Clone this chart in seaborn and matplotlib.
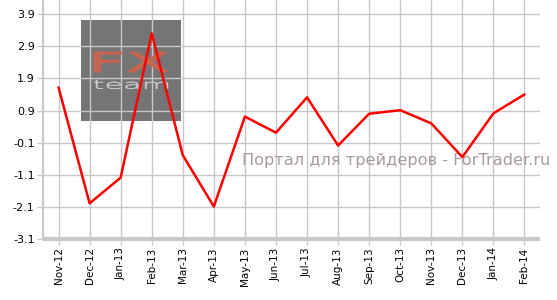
import matplotlib
matplotlib.use("Agg")
import matplotlib.pyplot as plt
import seaborn as sns
import pandas as pd
from matplotlib.patches import Rectangle, PathPatch
from matplotlib.textpath import TextPath
from matplotlib.font_manager import FontProperties
from matplotlib.transforms import Affine2D

months = ["Nov-12", "Dec-12", "Jan-13", "Feb-13", "Mar-13", "Apr-13", "May-13", "Jun-13",
          "Jul-13", "Aug-13", "Sep-13", "Oct-13", "Nov-13", "Dec-13", "Jan-14", "Feb-14"]
values = [1.62, -1.99, -1.19, 3.30, -0.49, -2.09, 0.71, 0.21,
          1.31, -0.19, 0.80, 0.91, 0.50, -0.55, 0.81, 1.40]
yticks = [-3.1, -2.1, -1.1, -0.1, 0.9, 1.9, 2.9, 3.9]
watermark = "Портал для трейдеров - ForTrader.ru"
logo_top = "FX"
logo_bottom = "team"

sns.set_theme(style="white")
plt.rcParams['font.family'] = ['DejaVu Sans']

df = pd.DataFrame({"month": months, "value": values})

W, H = 557, 300
fig = plt.figure(figsize=(W / 100, H / 100), dpi=100)
ax = fig.add_axes([43 / W, 1 - 239 / H, (540 - 43) / W, 239 / H])


def fig_box_text(s, x0, y0, x1, y1, color, lw=0, weight="normal", z=0.6):
    """Draw text s stretched into pixel box (x0,y0)-(x1,y1), top-left origin."""
    tp = TextPath((0, 0), s, size=10, prop=FontProperties(family="DejaVu Sans", weight=weight))
    bb = tp.get_extents()
    sx = (x1 - x0) / bb.width
    sy = (y1 - y0) / bb.height
    tr = (Affine2D().translate(-bb.x0, -bb.y0).scale(sx, sy)
          .translate(x0, H - y1).scale(1 / W, 1 / H))
    path = tr.transform_path(tp)
    patch = PathPatch(path, transform=fig.transFigure, facecolor=color,
                      edgecolor=color, linewidth=lw, zorder=z, clip_on=False)
    ax.add_artist(patch)


# logo box
ax.add_artist(Rectangle((81 / W, 1 - 121 / H), 100 / W, 101 / H,
                        transform=fig.transFigure, facecolor="#757575",
                        edgecolor="none", zorder=0.3, clip_on=False))
fig_box_text(logo_top, 94, 52, 168, 72, "#c46552", lw=0.8)
fig_box_text(logo_bottom, 94, 80, 168, 89, "#cfcfcf", lw=0.3, weight="light")

sns.lineplot(data=df, x="month", y="value", ax=ax, color="#ff0000",
             linewidth=1.8, sort=False, zorder=3)

ax.set_xlim(-0.5, len(months) - 0.5)
ax.set_ylim(-3.1, 4.34)
ax.set_yticks(yticks)
ax.set_yticklabels([f"{v:.1f}" for v in yticks], fontsize=8)
ax.set_xticks(range(len(months)))
ax.set_xticklabels(months, rotation=90, fontsize=7.5)
ax.set_xlabel("")
ax.set_ylabel("")

ax.grid(True, color="#c8c8c8", linewidth=1.0)
ax.set_axisbelow(True)
for s in ["top", "right"]:
    ax.spines[s].set_visible(False)
ax.spines["left"].set_color("#c8c8c8")
ax.spines["left"].set_linewidth(1.5)
ax.spines["bottom"].set_color("#c8c8c8")
ax.spines["bottom"].set_linewidth(3)
ax.spines["bottom"].set_capstyle("butt")
ax.tick_params(axis="both", length=4, color="#cccccc", width=1, pad=2, labelcolor="#000000")
ax.tick_params(axis="y", left=True)
ax.tick_params(axis="x", bottom=True)

ax.text(242 / W, 1 - 160 / H, watermark, fontsize=11.6, color="#a89b99",
        ha="left", va="center", zorder=2, transform=fig.transFigure)

fig.savefig("out.png", dpi=100)
